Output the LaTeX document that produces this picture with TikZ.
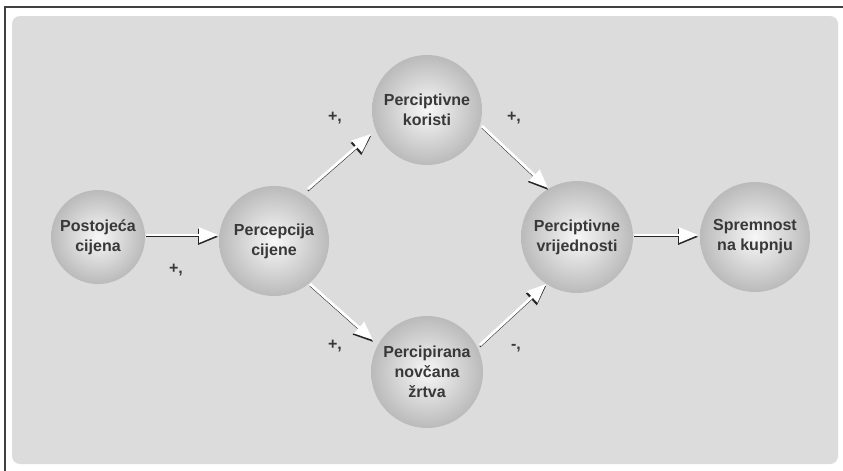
\documentclass[tikz,border=0pt]{standalone}
\usepackage{fontspec}
\setmainfont{Liberation Sans}
\usetikzlibrary{arrows.meta}
\definecolor{bggray}{HTML}{DCDCDC}
\definecolor{txtgray}{HTML}{383838}
\tikzset{
  ball/.style={circle, minimum size=#1, inner sep=0pt, align=center,
    inner color=white!94!gray, outer color=black!27, draw=none,
    font=\bfseries\fontsize{16}{20}\selectfont, text=txtgray},
  shadowarrow/.style={draw=black!85, line width=1.2pt, -{Triangle[length=20pt,width=16pt,fill=black!85]}},
  whitearrow/.style={draw=white, line width=2.8pt, -{Triangle[length=19pt,width=15pt,fill=white]}},
  sign/.style={font=\bfseries\fontsize{16}{16}\selectfont, text=txtgray}
}
\newcommand{\conn}[2]{%
  \draw[shadowarrow, transform canvas={yshift=-1.8pt}] (#1) -- (#2);
  \draw[whitearrow] (#1) -- (#2);}
\begin{document}
\begin{tikzpicture}[x=1pt,y=-1pt]
\useasboundingbox (0,0) rectangle (843,471);
\fill[white] (0,0) rectangle (843,471);
\draw[black!75, line width=1.4pt] (5,471) -- (5,7) -- (843,7);
\fill[bggray, rounded corners=8pt] (12,16) rectangle (838,464);
\node[ball=94pt] (pc) at (98,237) {Postojeća\\cijena};
\node[ball=110pt] (pcc) at (274,241) {Percepcija\\cijene};
\node[ball=110pt] (pk) at (427,110) {Perciptivne\\koristi};
\node[ball=112pt] (pn) at (427,372) {Percipirana\\novčana\\žrtva};
\node[ball=112pt] (pv) at (577,237) {Perciptivne\\vrijednosti};
\node[ball=110pt] (sk) at (755,237) {Spremnost\\na kupnju};
\coordinate (a1s) at (146,235); \coordinate (a1e) at (218,235);
\coordinate (a2s) at (308,189); \coordinate (a2e) at (371,134);
\coordinate (a3s) at (482,126); \coordinate (a3e) at (548,188);
\coordinate (a4s) at (310,284); \coordinate (a4e) at (373,340);
\coordinate (a5s) at (480,345); \coordinate (a5e) at (546,284);
\coordinate (a6s) at (634,235); \coordinate (a6e) at (698,235);
\conn{a1s}{a1e}
\conn{a2s}{a2e}
\conn{a3s}{a3e}
\conn{a4s}{a4e}
\conn{a5s}{a5e}
\conn{a6s}{a6e}
\node[sign] (s1) at (176,270) {+,};
\node[sign] (s2) at (335,118) {+,};
\node[sign] (s3) at (514,118) {+,};
\node[sign] (s4) at (335,346) {+,};
\node[sign] (s5) at (516,348) {-,};
\end{tikzpicture}
\end{document}
